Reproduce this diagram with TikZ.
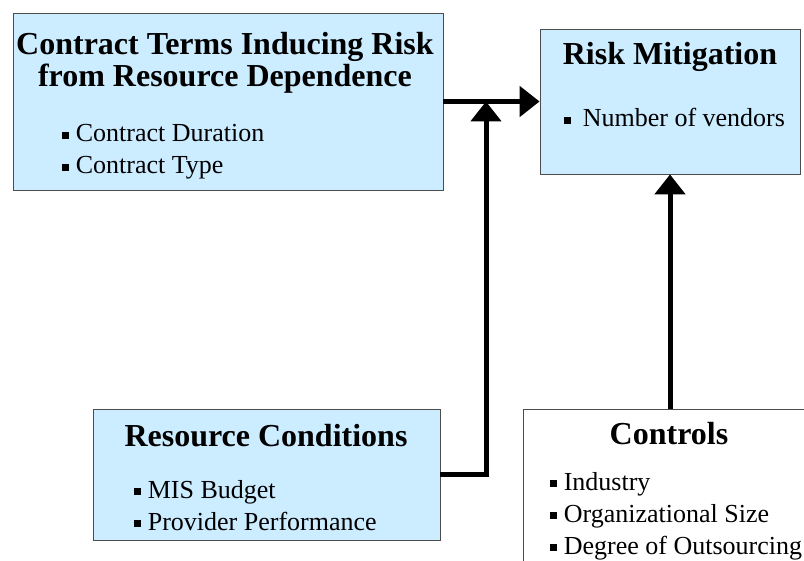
\documentclass[tikz,border=0pt]{standalone}
\usepackage{fontspec}
\setmainfont{Liberation Serif}
\usetikzlibrary{arrows.meta}
\definecolor{paleblue}{RGB}{204,236,255}
\newcommand{\sqb}{\rule[0.11em]{0.3em}{0.29em}\hspace{0.25em}}

\begin{document}
\begin{tikzpicture}[x=1pt,y=-1pt,
  box/.style={rectangle,draw=black!70,line width=.8pt,inner sep=0pt},
  bluebox/.style={box,fill=paleblue},
  heading/.style={anchor=base,align=center,font=\fontsize{32}{32}\selectfont\bfseries},
  items/.style={anchor=base west,align=left,font=\fontsize{26}{32}\selectfont},
  flow/.style={line width=5pt,-{Triangle[length=20pt,width=30pt]}}]
\useasboundingbox (0,0) rectangle (804,561);
\clip (0,0) rectangle (804,561);
%Boxes
\node at (228,101.5) [bluebox,minimum width=430pt,minimum height=177pt] (Terms) {};
\node at (670,101.5) [bluebox,minimum width=260pt,minimum height=145pt] (Mitigation) {};
\node at (266.5,474.5) [bluebox,minimum width=347pt,minimum height=131pt] (Conditions) {};
\node at (670,505) [box,fill=white,minimum width=294pt,minimum height=192pt] (Controls) {};
%Headings (base is the last line)
\node at (225,87) [heading] (TermsTitle) {Contract Terms Inducing Risk\\from Resource Dependence};
\node at (670,65) [heading] (MitigationTitle) {Risk Mitigation};
\node at (266,447) [heading] (ConditionsTitle) {Resource Conditions};
\node at (669,445) [heading] (ControlsTitle) {Controls};
%Item Lists
\node at (58,174) [items] (TermsList) {\sqb Contract Duration\\ \sqb Contract Type};
\node at (560,127) [items] (MitigationList) {\sqb\hspace{5pt}Number of vendors};
\node at (130,530) [items] (ConditionsList) {\sqb MIS Budget\\ \sqb Provider Performance};
\node at (546,554) [items] (ControlsList) {\sqb Industry\\ \sqb Organizational Size\\ \sqb Degree of Outsourcing};
%connections
\coordinate (Join) at (486,101.5);
\draw [flow] (Terms.east) -- (Mitigation.west);
\draw [flow] (Conditions.east) -| (Join);
\draw [flow] (Controls.north) -- (Mitigation.south);
\end{tikzpicture}
\end{document}
